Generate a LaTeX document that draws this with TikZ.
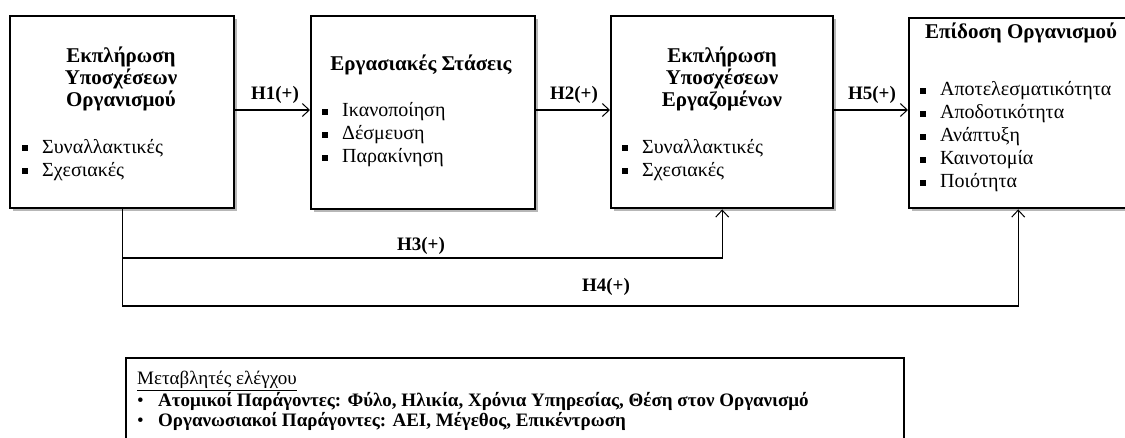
\documentclass[tikz,border=0pt]{standalone}
\usepackage{fontspec}
\setmainfont{Liberation Serif}
\usetikzlibrary{shadows,arrows.meta}
\newcommand{\sqb}{\raisebox{1.8pt}{\rule{6pt}{6pt}}}
\begin{document}
\begin{tikzpicture}[x=1pt,y=1pt,
  box/.style={draw, line width=2.4pt, fill=white,
    drop shadow={shadow xshift=3pt, shadow yshift=-3pt, fill=black!40, opacity=0.7},
    inner sep=0pt, anchor=north west},
  ttl/.style={font=\fontsize{21}{22}\selectfont\bfseries, align=center, inner sep=0pt},
  lst/.style={font=\fontsize{20}{23}\selectfont, anchor=west, inner sep=0pt},
  lbl/.style={font=\fontsize{19}{22}\selectfont\bfseries, inner sep=0pt},
  arr/.style={line width=1.1pt, -{Straight Barb[length=7pt,width=13pt,line width=1pt]}},
  conn/.style={line width=1.1pt}]
\clip (0,0) rectangle (1125,-437);
\fill[white] (0,0) rectangle (1125,-437);

% main boxes
\node[box, minimum width=224pt, minimum height=192pt] (b1) at (9,-15) {};
\node[box, minimum width=224pt, minimum height=193pt] (b2) at (310,-15) {};
\node[box, minimum width=222pt, minimum height=192pt] (b3) at (610,-15) {};
\node[box, minimum width=218pt, minimum height=190pt] (b4) at (908,-17) {};

% box texts
\node[ttl] (t1) at (121,-79) {Εκπλήρωση\\Υποσχέσεων\\Οργανισμού};
\node[lst] (l1) at (22,-160) {\begin{tabular}{@{}l@{\hspace{14pt}}l@{}}\sqb & Συναλλακτικές\\ \sqb & Σχεσιακές\end{tabular}};

\node[ttl] (t2) at (421,-65) {Εργασιακές Στάσεις};
\node[lst] (l2) at (322,-135) {\begin{tabular}{@{}l@{\hspace{14pt}}l@{}}\sqb & Ικανοποίηση\\ \sqb & Δέσμευση\\ \sqb & Παρακίνηση\end{tabular}};

\node[ttl] (t3) at (722,-79) {Εκπλήρωση\\Υποσχέσεων\\Εργαζομένων};
\node[lst] (l3) at (622,-160) {\begin{tabular}{@{}l@{\hspace{14pt}}l@{}}\sqb & Συναλλακτικές\\ \sqb & Σχεσιακές\end{tabular}};

\node[ttl] (t4) at (1021,-33) {Επίδοση Οργανισμού};
\node[lst] (l4) at (920,-137) {\begin{tabular}{@{}l@{\hspace{14pt}}l@{}}\sqb & Αποτελεσματικότητα\\ \sqb & Αποδοτικότητα\\ \sqb & Ανάπτυξη\\ \sqb & Καινοτομία\\ \sqb & Ποιότητα\end{tabular}};

% connectors
\draw[arr] (b1.east |- 0,-110) -- (b2.west |- 0,-110);
\draw[arr] (b2.east |- 0,-110) -- (b3.west |- 0,-110);
\draw[arr] (b3.east |- 0,-110) -- (b4.west |- 0,-110);
\node[lbl] (h1) at (275,-95) {H1(+)};
\node[lbl] (h2) at (574,-95) {H2(+)};
\node[lbl] (h5) at (872,-95) {H5(+)};

\coordinate (j3) at (b3.south |- 0,-258);
\coordinate (j4) at (b4.south |- 0,-306);
\draw[arr] (b1.south) |- (j3) -- (b3.south);
\draw[arr] (b1.south) |- (j4) -- (b4.south);
\node[lbl] (h3) at (421,-246) {H3(+)};
\node[lbl] (h4) at (606,-287) {H4(+)};

% control variables box
\draw[line width=1.8pt] (126,-460) -- (126,-358) -- (904,-358) -- (904,-460);
\node[font=\fontsize{19}{20}\selectfont, anchor=west, inner sep=0pt] (cv) at (137,-381) {\underline{Μεταβλητές ελέγχου}};
\node[font=\fontsize{19}{20}\selectfont\bfseries, anchor=west, inner sep=0pt] (c1) at (137,-401) {\makebox[21pt][l]{\mdseries •}Ατομικοί Παράγοντες: Φύλο, Ηλικία, Χρόνια Υπηρεσίας, Θέση στον Οργανισμό};
\node[font=\fontsize{19}{20}\selectfont\bfseries, anchor=west, inner sep=0pt] (c2) at (137,-421) {\makebox[21pt][l]{\mdseries •}Οργανωσιακοί Παράγοντες: ΑΕΙ, Μέγεθος, Επικέντρωση};
\end{tikzpicture}
\end{document}
